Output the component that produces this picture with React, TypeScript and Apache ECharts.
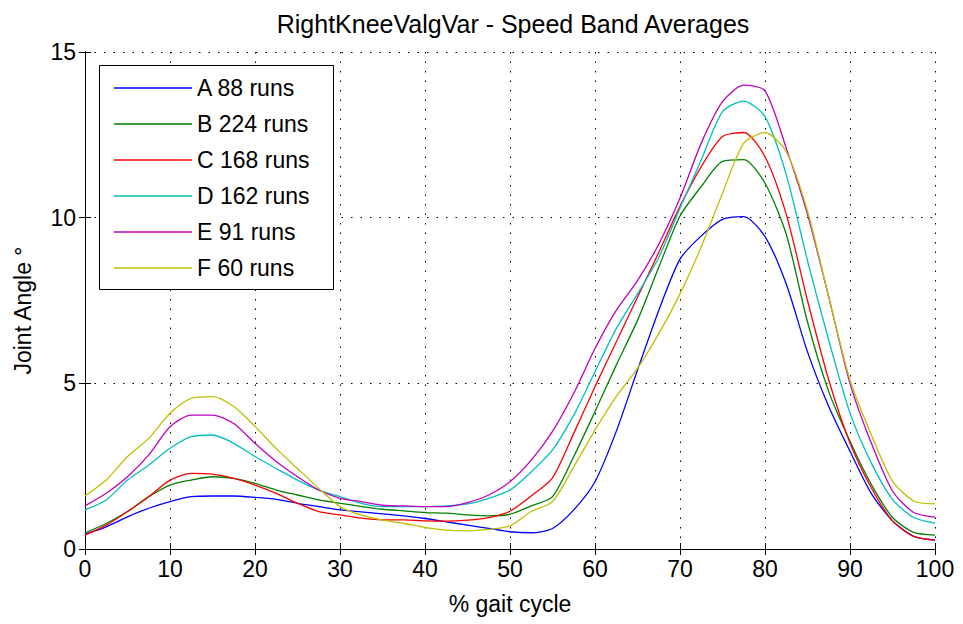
import React, { useEffect, useRef } from "react";
import * as echarts from "echarts";

// Percent of gait cycle, sampled every 2.5 %
const gaitPct: number[] = [
  0, 2.5, 5, 7.5, 10, 12.5, 15, 17.5, 20, 22.5, 25, 27.5, 30, 32.5, 35, 37.5, 40,
  42.5, 45, 47.5, 50, 52.5, 55, 57.5, 60, 62.5, 65, 67.5, 70, 72.5, 75, 77.5, 80,
  82.5, 85, 87.5, 90, 92.5, 95, 97.5, 100,
];

const bandA: number[] = [
  0.45, 0.67, 0.97, 1.23, 1.43, 1.58, 1.6, 1.6, 1.56, 1.5, 1.38, 1.28, 1.18, 1.12,
  1.06, 1.0, 0.92, 0.82, 0.72, 0.62, 0.52, 0.49, 0.62, 1.18, 2.03, 3.55, 5.4, 7.2,
  8.75, 9.45, 9.95, 10.03, 9.43, 8.0, 5.95, 4.3, 2.95, 1.68, 0.85, 0.38, 0.27,
];
const bandB: number[] = [
  0.49, 0.77, 1.13, 1.58, 1.93, 2.08, 2.18, 2.13, 1.98, 1.78, 1.63, 1.48, 1.38, 1.28,
  1.2, 1.15, 1.1, 1.08, 1.03, 1.0, 1.05, 1.3, 1.58, 2.79, 4.15, 5.55, 6.9, 8.5,
  10.05, 10.94, 11.7, 11.75, 11.04, 9.5, 6.85, 4.75, 3.25, 1.95, 0.95, 0.5, 0.42,
];
const bandC: number[] = [
  0.42, 0.72, 1.13, 1.58, 2.08, 2.28, 2.26, 2.13, 1.93, 1.68, 1.38, 1.13, 1.03, 0.93,
  0.88, 0.88, 0.85, 0.84, 0.87, 0.95, 1.14, 1.6, 2.15, 3.49, 4.9, 6.25, 7.6, 8.95,
  10.34, 11.54, 12.45, 12.57, 11.84, 10.1, 7.5, 5.1, 3.2, 1.85, 0.85, 0.38, 0.27,
];
const bandD: number[] = [
  1.18, 1.48, 2.08, 2.53, 3.04, 3.39, 3.44, 3.19, 2.79, 2.43, 2.08, 1.78, 1.58, 1.38,
  1.28, 1.28, 1.28, 1.3, 1.36, 1.53, 1.78, 2.33, 2.99, 4.04, 5.35, 6.65, 7.7, 8.8,
  10.29, 11.74, 13.2, 13.52, 13.05, 11.3, 8.7, 6.3, 4.1, 2.6, 1.5, 0.95, 0.78,
];
const bandE: number[] = [
  1.3, 1.68, 2.18, 2.84, 3.69, 4.04, 4.04, 3.79, 3.19, 2.64, 2.18, 1.78, 1.53, 1.43,
  1.32, 1.3, 1.28, 1.28, 1.4, 1.63, 2.03, 2.68, 3.55, 4.7, 6.05, 7.2, 8.1, 9.2,
  10.59, 12.25, 13.5, 14.0, 13.83, 12.1, 10.1, 7.6, 5.0, 3.2, 1.75, 1.1, 0.96,
];
const bandF: number[] = [
  1.6, 2.08, 2.79, 3.34, 4.1, 4.55, 4.6, 4.3, 3.7, 3.03, 2.43, 1.83, 1.28, 1.02,
  0.87, 0.77, 0.65, 0.57, 0.55, 0.59, 0.7, 1.13, 1.43, 2.48, 3.59, 4.6, 5.45, 6.5,
  7.7, 9.12, 10.74, 12.25, 12.57, 11.99, 10.2, 7.6, 5.1, 3.45, 2.05, 1.45, 1.36,
];

const bandNames: string[] = [
  "A 88 runs",
  "B 224 runs",
  "C 168 runs",
  "D 162 runs",
  "E 91 runs",
  "F 60 runs",
];
const bandColors: string[] = ["#0000ff", "#008000", "#ff0000", "#00bfbf", "#bf00bf", "#bfbf00"];
const bandValues: number[][] = [bandA, bandB, bandC, bandD, bandE, bandF];

const xTicks = { min: 0, max: 100, interval: 10 };
const yTicks = { min: 0, max: 15, interval: 5 };

const FONT = "Liberation Sans, Arial, Helvetica, sans-serif";
const FS = 23;

export default function App() {
  const ref = useRef<HTMLDivElement>(null);

  useEffect(() => {
    if (!ref.current) return;
    const chart = echarts.init(ref.current, undefined, { renderer: "svg" });

    const dotted = { color: "#000", width: 1, type: [1.5, 8] as number[] };
    const frameLine = { show: true, lineStyle: { color: "#000", width: 1 } };
    const tickIn = { show: true, inside: true, length: 6, lineStyle: { color: "#000", width: 1 } };
    const txt = { fontFamily: FONT, fontSize: FS, color: "#000" };

    const series = bandValues.map((vals, i) => ({
      name: bandNames[i],
      type: "line" as const,
      data: gaitPct.map((x, j) => [x, vals[j]]),
      showSymbol: false,
      symbol: "none",
      smooth: 0.25,
      lineStyle: { color: bandColors[i], width: 1.3 },
      itemStyle: { color: bandColors[i] },
      z: 2,
    }));

    chart.setOption({
      animation: false,
      backgroundColor: "#fff",
      title: {
        text: "RightKneeValgVar - Speed Band Averages",
        left: 508,
        textAlign: "center",
        top: 6,
        textStyle: { ...txt, fontSize: 25, fontWeight: "normal" },
      },
      grid: { left: 85, right: 28, top: 52, bottom: 75, show: false },
      legend: {
        orient: "vertical",
        left: 109,
        top: 71,
        icon: "rect",
        itemWidth: 78,
        itemHeight: 1.6,
        itemGap: 12,
        data: bandNames,
        textStyle: { ...txt, lineHeight: 24 },
        z: 5,
      },
      graphic: [
        {
          type: "rect",
          left: 99,
          top: 65,
          shape: { width: 234, height: 224 },
          style: { fill: "#fff", stroke: "#000", lineWidth: 1 },
          z: 4,
        },
      ],
      xAxis: [
        {
          type: "value",
          ...xTicks,
          position: "bottom",
          name: "% gait cycle",
          nameLocation: "middle",
          nameGap: 43,
          nameTextStyle: txt,
          axisLine: frameLine,
          axisTick: tickIn,
          axisLabel: { ...txt, margin: 8 },
          splitLine: { show: true, lineStyle: dotted },
        },
        {
          type: "value",
          ...xTicks,
          position: "top",
          axisLine: frameLine,
          axisTick: tickIn,
          axisLabel: { show: false },
          splitLine: { show: false },
        },
      ],
      yAxis: [
        {
          type: "value",
          ...yTicks,
          position: "left",
          name: "Joint Angle °",
          nameLocation: "middle",
          nameGap: 51,
          nameTextStyle: { ...txt, padding: [0, 20, 0, 0] },
          axisLine: frameLine,
          axisTick: tickIn,
          axisLabel: { ...txt, margin: 9 },
          splitLine: { show: true, lineStyle: dotted },
        },
        {
          type: "value",
          ...yTicks,
          position: "right",
          axisLine: frameLine,
          axisTick: tickIn,
          axisLabel: { show: false },
          splitLine: { show: false },
        },
      ],
      series,
    });

    return () => chart.dispose();
  }, []);

  return (
    <div
      ref={ref}
      style={{ position: "fixed", left: 0, top: 0, width: 963, height: 624, background: "#fff" }}
    />
  );
}
